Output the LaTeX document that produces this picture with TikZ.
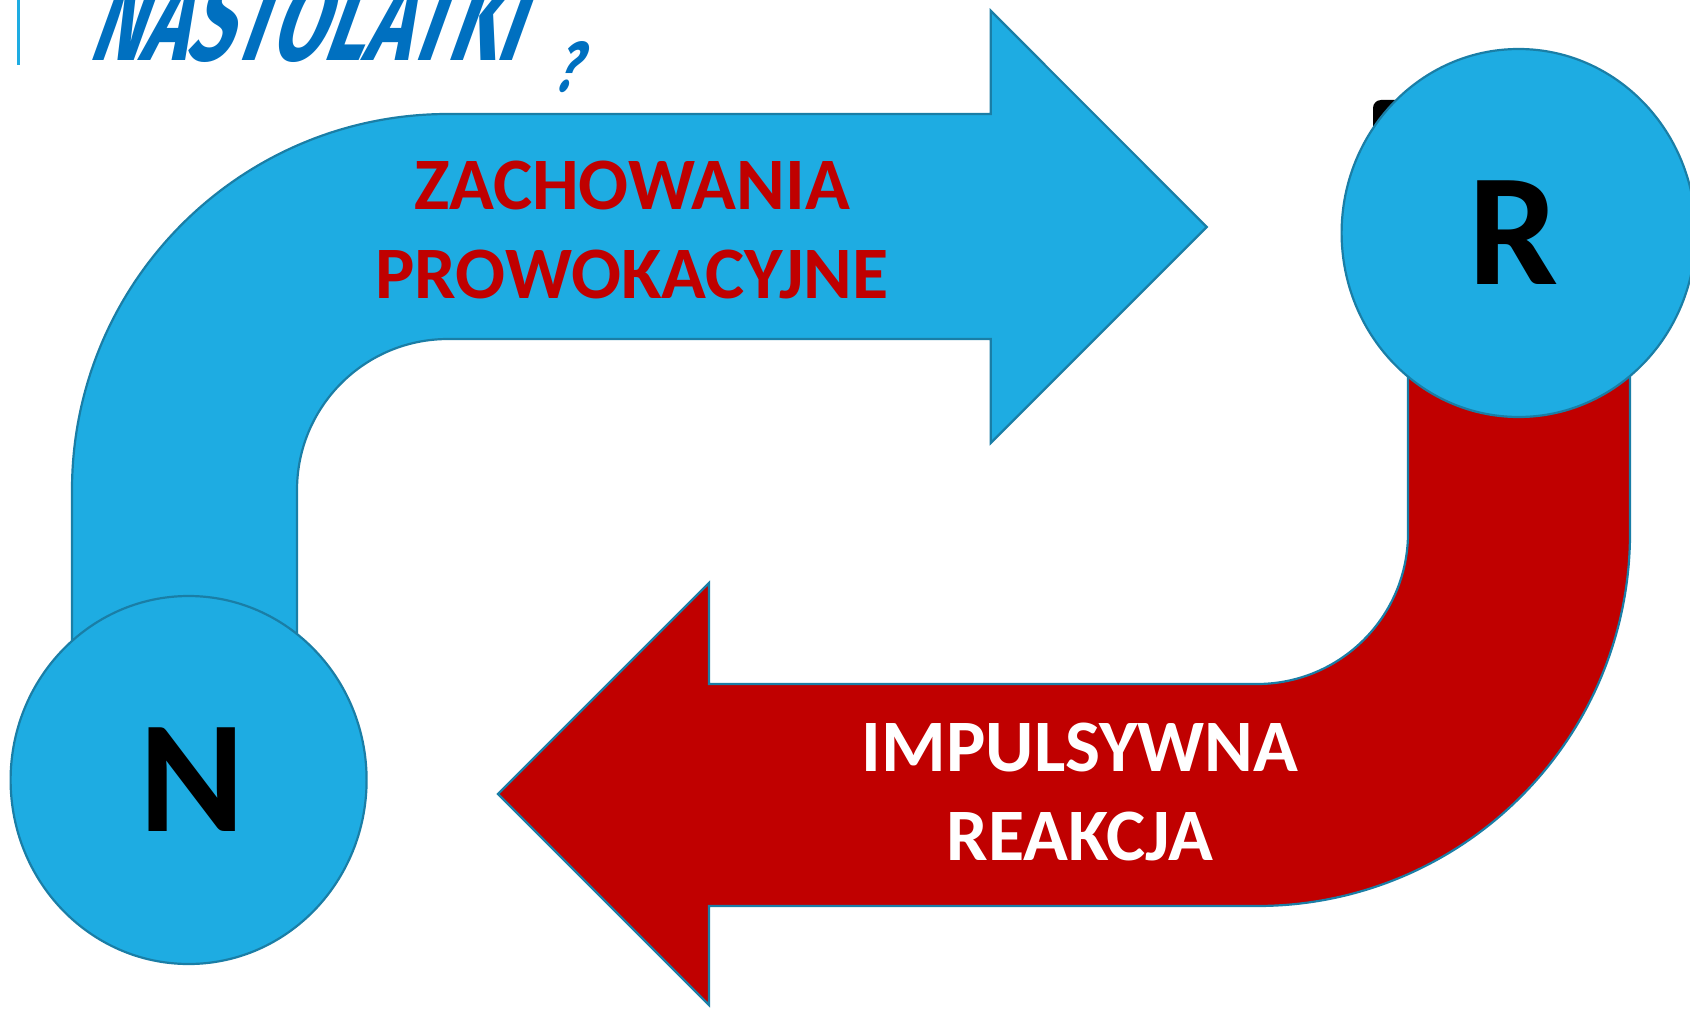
\documentclass[tikz,border=0pt]{standalone}
\usepackage{fontspec}
\setmainfont{Carlito}
\newfontfamily\titlefont{Fira Sans}
\usetikzlibrary{shapes.geometric}
\definecolor{arrowblue}{RGB}{30,172,226}
\definecolor{edgeblue}{RGB}{26,126,166}
\definecolor{darkred}{RGB}{192,0,0}
\definecolor{titleblue}{RGB}{0,112,192}
\definecolor{barblue}{RGB}{30,172,226}
\tikzset{
  arrowshape/.style={draw=edgeblue, line width=1.1pt, line join=miter},
  bubble/.style={ellipse, draw=edgeblue, line width=1.1pt, fill=arrowblue, inner sep=0pt,
    font=\fontsize{80pt}{90pt}\selectfont\bfseries, text=black},
  label/.style={anchor=north, align=center, inner sep=0pt,
    font=\fontsize{37pt}{44.5pt}\selectfont\bfseries},
  titletext/.style={anchor=south west, inner sep=0pt, text=titleblue, xslant=0.36}
}
\begin{document}
\begin{tikzpicture}[x=0.5pt,y=0.5pt]
\useasboundingbox (0,0) rectangle (1690,1009);
% title
\fill[barblue] (16.5,944) rectangle (19.5,1009);
\node[titletext] (title) at (86,946.5)
  {\resizebox{215pt}{42.5pt}{\titlefont\bfseries NASTOLATKI}};
\node[titletext] (qmark) at (552,916)
  {\resizebox{11.5pt}{25pt}{\titlefont\bfseries ?}};
% red arrow
\path[arrowshape, fill=darkred] (1630,709) -- (1630,476)
  arc[start angle=0, end angle=-90, radius=373] -- (709,103) -- (709,4)
  -- (498,215) -- (709,426) -- (709,325) -- (1257,325)
  arc[start angle=-90, end angle=0, radius=151] -- (1408,709) -- cycle;
% blue arrow
\path[arrowshape, fill=arrowblue] (72,369) -- (72,519)
  arc[start angle=180, end angle=90, radius=376] -- (990.7,895) -- (990.7,998.3)
  -- (1206.7,782) -- (990.7,566) -- (990.7,670) -- (448,670)
  arc[start angle=90, end angle=180, radius=151] -- (297,369) -- cycle;
% hidden black shape behind R
\fill[black, rounded corners=4pt] (1373,760) rectangle (1430,909);
% circles
\node[bubble, minimum width=178pt, minimum height=184pt] (N) at (188.6,229) {\kern3.2pt N};
\node[bubble, minimum width=177pt, minimum height=184pt] (R) at (1518.6,776) {R\kern5.4pt};
% labels
\node[label, text=darkred] (zach) at (632,848) {ZACHOWANIA\\PROWOKACYJNE};
\node[label, text=white] (imp) at (1080,286) {IMPULSYWNA\\REAKCJA};
\end{tikzpicture}
\end{document}
